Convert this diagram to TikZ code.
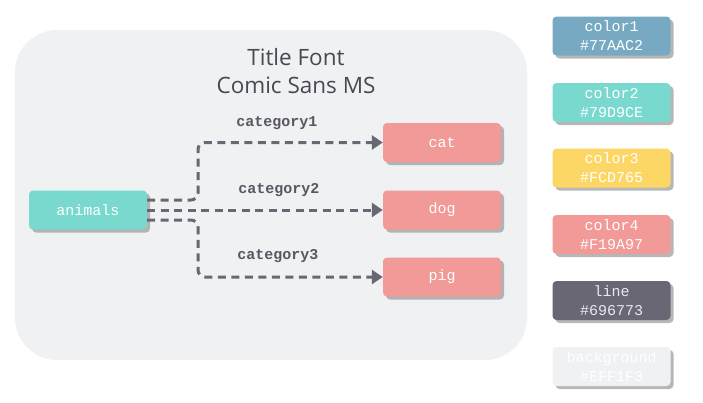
\documentclass[tikz,border=0pt]{standalone}
\usepackage{fontspec}
\setmonofont{Liberation Mono}
\newfontfamily\titlefont{Open Sans}
\usetikzlibrary{arrows.meta,shadows}
\definecolor{colorone}{HTML}{77AAC2}
\definecolor{colortwo}{HTML}{79D9CE}
\definecolor{colorthree}{HTML}{FCD765}
\definecolor{colorfour}{HTML}{F19A97}
\definecolor{linecol}{HTML}{696773}
\definecolor{bgcol}{HTML}{EFF1F3}
\definecolor{titlecol}{HTML}{4A4853}
\tikzset{
    box/.style={rectangle, rounded corners=4pt, minimum width=118pt, minimum height=39pt,
        text=white, font=\ttfamily\fontsize{15}{19}\selectfont, align=center,
        drop shadow={shadow xshift=3pt, shadow yshift=-3pt, fill=black!40, opacity=0.7}},
    catlabel/.style={text=linecol!85!black, font=\ttfamily\bfseries\fontsize{15}{18}\selectfont},
    conn/.style={draw=linecol, line width=3pt, dash pattern=on 8pt off 5.5pt,
        rounded corners=7pt, -{Triangle[length=11pt,width=14pt]}}
}
\begin{document}
\begin{tikzpicture}[x=1pt,y=-1pt]
    \useasboundingbox (0,0) rectangle (703,402);
    % background panel
    \fill[bgcol, rounded corners=42pt] (15,30) rectangle (527,360);
    \node[font=\titlefont\fontsize{22.5}{28}\selectfont, text=titlecol, align=center] (title) at (296,71) {Title Font\\Comic Sans MS};
    % diagram nodes
    \begin{scope}[every node/.style={box, fill=colorfour}]
        \node[fill=colortwo] (animals) at (88,210) {animals};
        \node (cat) at (442,142.5) {cat};
        \node (dog) at (442,210) {dog};
        \node (pig) at (442,277) {pig};
    \end{scope}
    \coordinate (split) at (198,210);
    \begin{scope}[every path/.style={conn}]
        \draw ([yshift=10pt]animals.east) -| (cat.west -| split) -- (cat.west);
        \draw (animals.east) -- (dog.west);
        \draw ([yshift=-10pt]animals.east) -| (pig.west -| split) -- (pig.west);
    \end{scope}
    \node[catlabel] (c1) at (277,123) {category1};
    \node[catlabel] (c2) at (279,190) {category2};
    \node[catlabel] (c3) at (278,256) {category3};
    % palette
    \begin{scope}[every node/.style={box}]
        \node[fill=colorone] (p1) at (611.5,36) {color1\\\#77AAC2};
        \node[fill=colortwo] (p2) at (611.5,102.5) {color2\\\#79D9CE};
        \node[fill=colorthree] (p3) at (611.5,168) {color3\\\#FCD765};
        \node[fill=colorfour] (p4) at (611.5,234.5) {color4\\\#F19A97};
        \node[fill=linecol, text=white!85!linecol] (p5) at (611.5,300.5) {line\\\#696773};
        \node[fill=bgcol] (p6) at (611.5,366.5) {background\\\#EFF1F3};
    \end{scope}
\end{tikzpicture}
\end{document}
